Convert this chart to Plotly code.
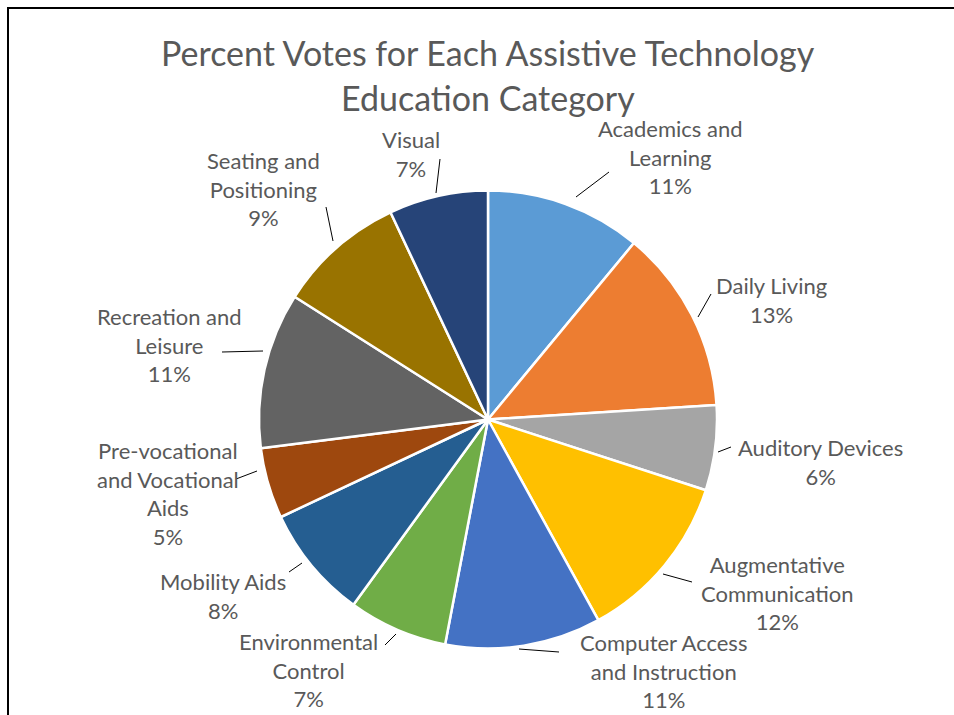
import plotly.graph_objects as go

# Survey categories (clockwise from 12 o'clock) and their vote shares in percent
categories = [
    "Academics and Learning",
    "Daily Living",
    "Auditory Devices",
    "Augmentative Communication",
    "Computer Access and Instruction",
    "Environmental Control",
    "Mobility Aids",
    "Pre-vocational and Vocational Aids",
    "Recreation and Leisure",
    "Seating and Positioning",
    "Visual",
]
percents = [11, 13, 6, 12, 11, 7, 8, 5, 11, 9, 7]

colors = [
    "#5B9BD5", "#ED7D31", "#A5A5A5", "#FFC000", "#4472C4", "#70AD47",
    "#255E91", "#9E480E", "#636363", "#997300", "#264478",
]

# How each category name wraps in its data label
wrapped = {
    "Academics and Learning": "Academics and<br>Learning",
    "Daily Living": "Daily Living",
    "Auditory Devices": "Auditory Devices",
    "Augmentative Communication": "Augmentative<br>Communication",
    "Computer Access and Instruction": "Computer Access<br>and Instruction",
    "Environmental Control": "Environmental<br>Control",
    "Mobility Aids": "Mobility Aids",
    "Pre-vocational and Vocational Aids": "Pre-vocational<br>and Vocational<br>Aids",
    "Recreation and Leisure": "Recreation and<br>Leisure",
    "Seating and Positioning": "Seating and<br>Positioning",
    "Visual": "Visual",
}

# Layout (pixels): label box centres and leader lines (slice edge -> label)
label_pos = {
    "Academics and Learning": (670, 157),
    "Daily Living": (771, 300),
    "Auditory Devices": (820, 462),
    "Augmentative Communication": (777, 593),
    "Computer Access and Instruction": (663, 671),
    "Environmental Control": (308, 670),
    "Mobility Aids": (223, 596),
    "Pre-vocational and Vocational Aids": (168, 493),
    "Recreation and Leisure": (169, 345),
    "Seating and Positioning": (263, 189),
    "Visual": (411, 154),
}
leaders = {
    "Academics and Learning": ((576, 197), (609, 172)),
    "Daily Living": ((698, 317), (711, 294)),
    "Auditory Devices": ((718, 452), (731, 447)),
    "Augmentative Communication": ((663, 574), (692, 582)),
    "Computer Access and Instruction": ((519, 649), (559, 652)),
    "Environmental Control": ((385, 645), (396, 634)),
    "Mobility Aids": ((289, 572), (302, 563)),
    "Pre-vocational and Vocational Aids": ((257, 471), (236, 479)),
    "Recreation and Leisure": ((263, 351), (222, 352)),
    "Seating and Positioning": ((333, 241), (326, 207)),
    "Visual": ((436, 193), (440, 159)),
}

W, H = 954, 715
CX, CY, R = 488, 419.5, 229
TEXT = "#595959"
FONT = "Lato"


def px(x):
    return x / W


def py(y):
    return 1 - y / H


fig = go.Figure(
    go.Pie(
        labels=categories,
        values=percents,
        sort=False,
        direction="clockwise",
        rotation=0,
        marker=dict(colors=colors, line=dict(color="white", width=2.5)),
        textinfo="none",
        hoverinfo="label+percent",
        showlegend=False,
        domain=dict(x=[px(CX - R), px(CX + R)], y=[py(CY + R), py(CY - R)]),
    )
)

shapes = []
annotations = []
for name, val in zip(categories, percents):
    (sx, sy), (ex, ey) = leaders[name]
    shapes.append(dict(type="line", xref="paper", yref="paper",
                       x0=px(sx), y0=py(sy), x1=px(ex), y1=py(ey),
                       line=dict(color="black", width=1)))
    lx, ly = label_pos[name]
    annotations.append(dict(
        x=px(lx), y=py(ly), xref="paper", yref="paper",
        xanchor="center", yanchor="middle", showarrow=False, align="center",
        text=f"{wrapped[name]}<br>{val}%",
        font=dict(family=FONT, size=22, color=TEXT),
    ))

# Two-line chart title
for line, y in [("Percent Votes for Each Assistive Technology", 52),
                ("Education Category", 97)]:
    annotations.append(dict(
        x=px(488), y=py(y), xref="paper", yref="paper",
        xanchor="center", yanchor="middle", showarrow=False,
        text=line, font=dict(family=FONT, size=34, color=TEXT),
    ))

# Chart-area border (top and left edges visible)
shapes.append(dict(type="rect", xref="paper", yref="paper",
                   x0=px(8), y0=py(8), x1=px(W + 10), y1=py(H + 10),
                   line=dict(color="black", width=2)))

fig.update_layout(
    width=W, height=H,
    margin=dict(l=0, r=0, t=0, b=0),
    paper_bgcolor="white", plot_bgcolor="white",
    shapes=shapes, annotations=annotations,
)

fig.write_html("out.html")
